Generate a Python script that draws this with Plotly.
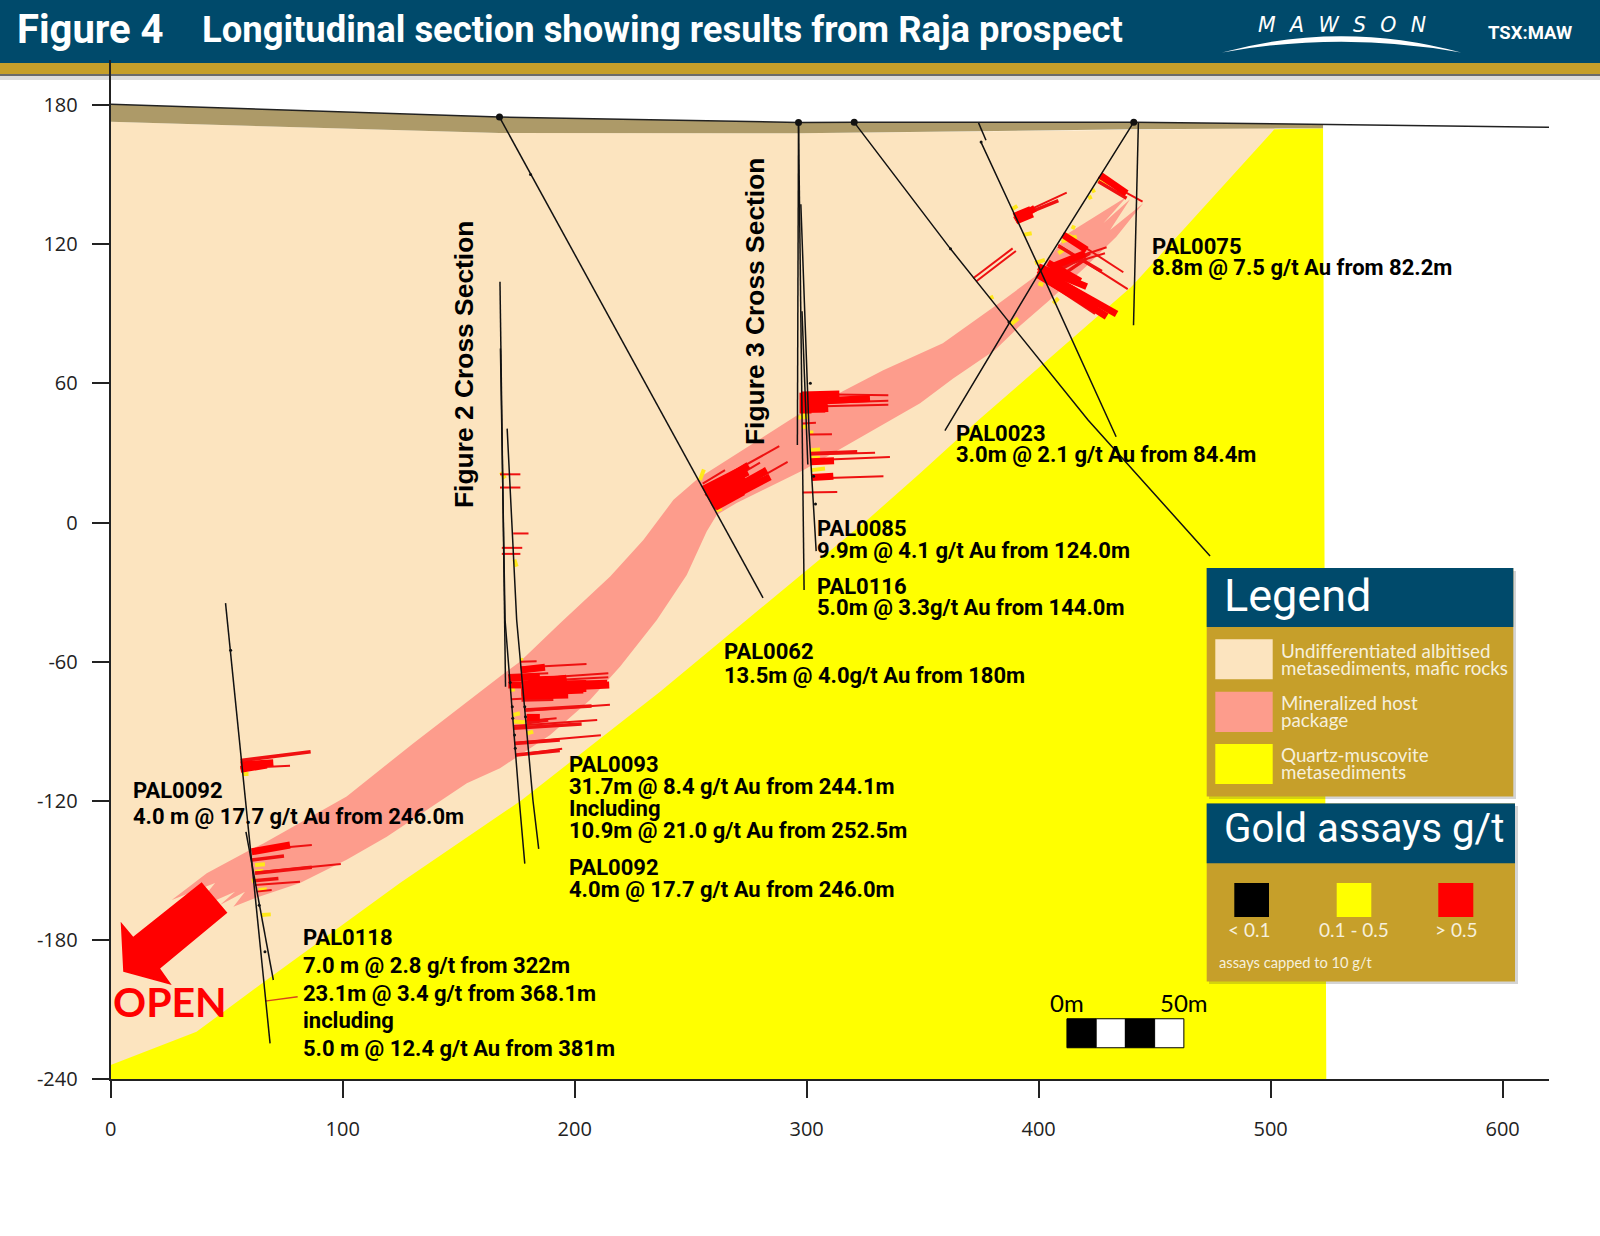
# Raja prospect longitudinal section
import plotly.graph_objects as go

W, H = 1600, 1236

# axis ticks
x_ticks = [0, 100, 200, 300, 400, 500, 600]
y_ticks = [-240, -180, -120, -60, 0, 60, 120, 180]
y_tick_labels = ["-240", "-180", "-120", "-60", "0", "60", "120", "180"]

# geology outlines (metres along section, elevation)
surface_x = [0, 167.6, 296.5, 321, 441, 522.6, 620]
surface_y = [180.3, 174.8, 172.5, 172.6, 172.6, 171.7, 170.4]
overburden_x = [0, 167.6, 296.5, 321, 441, 522.6, 522.6, 441, 296.5, 167.6, 0]
overburden_y = [180.3, 174.8, 172.5, 172.6, 172.6, 171.7, 170, 169.5, 167.8, 167.9, 172.8]
peach_x = [0, 167.6, 296.5, 441, 501.6, 522, 0]
peach_y = [172.8, 167.9, 167.8, 169.5, 170, -240, -240]
yellow_x = [0, 37, 67.2, 124.7, 177.2, 236.8, 326, 348.9, 374.1, 413.5, 440, 501.6, 522.6, 524, 0]
yellow_y = [-233.8, -219.5, -197.2, -155.4, -119.6, -72.9, 1, 21.3, 44.2, 78.7, 101.6, 169.5, 170, -240, -240]
host_x = [26.3, 41.4, 58.6, 65.8, 101.7, 130.5, 167.8, 176.4, 193.7, 215.3, 229.6, 242.6, 253.3, 297.1, 333, 358.7,
          382.9, 398.3, 412.6, 429, 438, 427.9, 439.4, 430.8, 445.1, 433.5, 420.3, 404.9, 391.5, 381.2, 363,
          348.9, 298.5, 269.8, 261.2, 256.9, 248.3, 235.4, 219.6, 206.6, 189.4, 167.8, 153.5, 119, 101.7, 81.6, 63.6, 52.9,
          57.9, 47.1, 53.6, 35.6, 45, 26.3]
host_y = [-162.7, -151.2, -141.9, -138.3, -118.1, -95.1, -66.4, -60, -43.4, -23.3, -7.5, 9.8, 19.1, 47, 65.7, 77.3,
          94.5, 106, 124.6, 134.7, 140.5, 129, 139.4, 126.1, 137.6, 123.2, 110.3, 96, 84.4, 74.4, 62,
          51.4, 22.6, 8.4, 3.3, -3.9, -22.6, -42, -62.1, -76.5, -91.6, -105.9, -112.4, -135.4, -145.4, -155.4, -161.4, -165.6,
          -159.1, -164.9, -159.1, -167, -155.4, -162.7]
arrow_x = [39.2, 50.3, 21.3, 26.3, 5.4, 4.3, 9.7]
arrow_y = [-155.1, -168.2, -192.2, -199.4, -193.6, -172.1, -178.5]

# drill traces as polylines
holes = [
    ([167.6, 281.2], [174.8, -32.5]),
    ([296.5, 296], [172.5, 33.4]),
    ([296.5, 298.9], [172.5, -29.1]),
    ([297.5, 301, 304.1], [137.2, 40, -12.3]),
    ([298, 300.5], [91.1, 25]),
    ([320.5, 362, 387.2, 421.3, 473.9], [172.5, 118, 86.5, 44.2, -14.4]),
    ([374.1, 377.3], [172.3, 164.8]),
    ([375.2, 399.4, 433.4], [163.9, 111.7, 37]),
    ([441, 399.3, 359.6], [172.6, 106, 39.6]),
    ([443, 440.9], [172.5, 85.1]),
    ([167.8, 170.2], [103.8, -70.8]),
    ([168, 170, 176.1, 178.5], [75, -42, -119.6, -147]),
    ([170.9, 175, 182, 184.5], [40.5, -42, -119.6, -140.7]),
    ([49.5, 68.7], [-34.7, -224.5]),
    ([58.3, 70.1], [-133.3, -197.2]),
]
collar_x = [167.6, 296.5, 320.5, 441]
collar_y = [174.8, 172.5, 172.6, 172.6]
sample_x = [172.2, 173.1, 173.3, 174.1, 174.4, 178.5, 178.8, 303, 303.8, 301.6, 181, 387.2, 375.2, 362, 51.7, 64, 66.5]
sample_y = [-69, -79.4, -84.4, -91.6, -97.3, -79.4, -83.7, 20, 8, 60, 150, 86.5, 164, 118, -55, -165, -185]

# gold assay bars along the holes, (x0, y0, x1, y1)
assay_thin = [
    (176.4, -60, 183.6, -59.8), (176.8, -62.5, 205.1, -61), (177.1, -67.6, 214.5, -65), (177.1, -68.6, 214.5, -66.7),
    (178.5, -81.1, 215.2, -78.5), (179.3, -85.5, 192.2, -84.4), (173.5, -87.7, 209.7, -85.1), (174.2, -94.9, 211.3, -91.7),
    (174.7, -100.2, 194.6, -97.5), (172.8, -76.2, 177.1, -75.9), (171.4, -65.7, 188.6, -65),
    (297.9, 55.4, 335.2, 54.9), (297.9, 51.3, 335.2, 52.5), (297.9, 49.9, 335.2, 50.8), (298.3, 42.7, 304, 43),
    (301.4, 38, 310.9, 38.1), (301.7, 29.3, 329.5, 30.1), (301.7, 26.9, 335.9, 28.3), (302.2, 19, 333.1, 20),
    (298.3, 13, 313.2, 13.2), (255.2, 16.8, 264.8, 22.6), (255.5, 14.7, 288.2, 32.9), (256.2, 11.8, 279.9, 25.8),
    (259, 7.5, 291.8, 26.2),
    (425.7, 148.8, 444.8, 138.3), (389.8, 131.9, 412.1, 142.2), (371.8, 105.3, 388.8, 118.2), (373, 103.9, 390.2, 117.1),
    (410.6, 124.7, 436.5, 107.9), (408.5, 119.7, 438.4, 100.6), (404.2, 110.3, 429.3, 118.7), (404.9, 108.9, 428.6, 116.1),
    (399.9, 106, 424.3, 89.9),
    (56, -105.9, 77.3, -104.8), (60.8, -141.4, 86.7, -139), (62.2, -150.9, 99.2, -147.2), (62.2, -156.2, 81.6, -154.8),
    (62.9, -159.1, 69.4, -158.4),
    (167.8, 20.8, 176.6, 20.8), (167.8, 15.1, 176.6, 15.1), (173.5, -4.7, 180.1, -4.7), (168.6, -10.9, 177.4, -10.9),
    (168.6, -13.5, 176.6, -13.5),
]
assay_mid = [
    (178.5, -80.8, 207.3, -79.1), (179.3, -86.3, 188.6, -85.1), (173.5, -88.7, 203, -86.8), (174.2, -95.2, 193.6, -93.7),
    (174.7, -100.2, 193.6, -98.3), (177.1, -76.5, 190.8, -76.2), (301.7, 29.8, 321.8, 30.5),
    (425.7, 147, 437.9, 139.8), (389.8, 131.2, 408.5, 138.8), (408.5, 119.2, 427.2, 108.2), (406.3, 107.5, 422.1, 116.1),
    (409.2, 106, 420.7, 113.9), (399.9, 106, 416.4, 96.7),
    (56, -102.6, 86.2, -98.8), (60.8, -145.5, 74.7, -143.7), (62.2, -151.2, 86.7, -148.6), (61.5, -154.4, 72.3, -153.4),
]
assay_heavy = [
    (176.8, -63.6, 187.2, -62.4), (171.4, -67.1, 185, -66.4), (177.1, -70, 196.5, -67.1), (177.1, -71.9, 214.9, -70),
    (177.1, -73.3, 203.7, -72.2), (177.1, -74.8, 197.2, -74.3), (171.4, -70, 177.1, -70), (179.3, -84, 185, -84),
    (196, -69.8, 214, -69.3),
    (297.9, 55, 314.1, 55.4), (297.9, 52, 327.3, 53.5), (297.9, 48.7, 309.3, 49.2), (297.9, 50, 309, 50),
    (301.7, 26.2, 311.8, 26.6), (302.2, 19.4, 311.5, 20), (256.2, 13.2, 274.9, 24.7), (257.6, 10.4, 273.4, 19.4),
    (258.3, 8.9, 282.8, 22.6), (259.8, 6.8, 284.2, 19.7), (260.5, 6.5, 272.7, 13.2),
    (426.5, 149.8, 437.9, 141.9), (389.8, 130.4, 398.4, 135.5), (410.6, 124, 420.7, 117.5), (399.9, 108.9, 433.6, 89.9),
    (399.9, 107.5, 429.3, 88.8), (399.9, 110.3, 420.7, 101.7), (404, 112, 418, 104), (404.9, 110, 420, 116),
    (56, -104.5, 70.1, -103.5), (56, -106.4, 67.3, -104.5), (60.8, -141.9, 77.3, -139),
]
assay_block = [
    (399.9, 108, 425, 93), (389.8, 131, 397, 134), (299.5, 56, 299.5, 47), (180, -69, 196, -68.5), (180, -71, 205, -70.5),
    (177.1, -73.5, 192, -73), (298, 53, 309, 52), (298, 50, 308, 50), (255.8, 13.3, 274.2, 22.7), (259.1, 8.3, 277, 17.7),
]
assay_low = [
    (388.4, 135, 390.8, 136.5), (393.4, 124, 397, 124.7), (398.4, 111.8, 402.7, 113.2), (399.9, 103.1, 402, 102.4),
    (408.5, 116.1, 410.6, 117.5), (409.9, 121.1, 416.4, 123.3), (412.1, 124, 415.7, 122.5), (414.2, 127.6, 415.7, 126.9),
    (421.4, 139.8, 422.9, 140.5), (422.9, 142.7, 424.3, 143.4), (387.7, 85.2, 391.2, 88), (379, 96.7, 380.5, 97.4),
    (406.3, 94.5, 408.5, 96.7), (425.7, 147.7, 430, 145.5),
    (254, 18.3, 255.7, 22.9), (258.3, 10.4, 262.6, 12.2), (260.9, 5.3, 263.4, 6), (296.4, 45.3, 300.7, 45.6),
    (297.8, 46.3, 302.2, 48.5), (297.8, 41.3, 300.3, 41.3), (301.4, 38.8, 302.9, 38.8), (301.7, 31.2, 305.8, 31.5),
    (301.7, 27.9, 305.8, 27.9), (302.2, 22.6, 307.9, 23.3),
    (176.4, -59.2, 177.8, -59.2), (172.1, -72.2, 174.2, -71.9), (173.2, -83, 176.4, -82.2), (173.5, -85.8, 178.5, -86.1),
    (179, -87.7, 181.4, -87.3), (179.5, -90.9, 182.1, -90.1),
    (56.9, -108.4, 59.4, -108.4), (62.2, -147.6, 66.5, -147.3), (62.2, -150.5, 65.8, -150.2), (60.8, -154.4, 62.9, -154.1),
    (63.7, -158.4, 67.3, -158.1), (65.1, -169.2, 69, -168.9), (168.2, 21.7, 170, 19), (174, -16, 175, -19),
]
leader_x = [66.5, 80.6]
leader_y = [-206.3, -204.4]

# scale bar, metres
scale_x = [412.2, 424.8, 437.4, 450, 462.6]
scale_y = [-226.4, -213.9]

# hole intercept labels: text, left px, centre px
hole_labels = [
    ("PAL0075", 1150, 246), ("8.8m @ 7.5 g/t Au from 82.2m", 1150, 267),
    ("PAL0023", 954, 433), ("3.0m @ 2.1 g/t Au from 84.4m", 954, 454),
    ("PAL0085", 815, 528), ("9.9m @ 4.1 g/t Au from 124.0m", 815, 550),
    ("PAL0116", 815, 586), ("5.0m @ 3.3g/t Au from 144.0m", 815, 608),
    ("PAL0062", 722, 652), ("13.5m @ 4.0g/t Au from 180m", 722, 675),
    ("PAL0093", 567, 764), ("31.7m @ 8.4 g/t Au from 244.1m", 567, 786), ("Including", 567, 808),
    ("10.9m @ 21.0 g/t Au from 252.5m", 567, 830),
    ("PAL0092", 567, 867), ("4.0m @ 17.7 g/t Au from 246.0m", 567, 889),
    ("PAL0092", 131, 790), ("4.0 m @ 17.7 g/t Au from 246.0m", 131, 816),
    ("PAL0118", 301, 937), ("7.0 m @ 2.8 g/t from 322m", 301, 965), ("23.1m @ 3.4 g/t from 368.1m", 301, 993),
    ("including", 301, 1020), ("5.0 m @ 12.4 g/t Au from 381m", 301, 1048),
]

TEAL = "#004a6b"
GOLD = "#c69f2a"
CREAM = "#f6f0dc"


def seg_xy(segs):
    xs, ys = [], []
    for x0, y0, x1, y1 in segs:
        xs += [x0, x1, None]
        ys += [y0, y1, None]
    return xs, ys


def add_fill(xs, ys, color):
    fig.add_trace(go.Scatter(x=xs, y=ys, mode="lines", fill="toself", fillcolor=color, line=dict(width=0), hoverinfo="skip"))


def add_segs(segs, color, width):
    xs, ys = seg_xy(segs)
    fig.add_trace(go.Scatter(x=xs, y=ys, mode="lines", line=dict(color=color, width=width), hoverinfo="skip"))


def box(x0, y0, x1, y1, color, layer="above", line=None):
    fig.add_shape(type="rect", xref="paper", yref="paper", x0=x0 / W, x1=x1 / W, y0=1 - y0 / H, y1=1 - y1 / H,
                  fillcolor=color, line=line or dict(width=0), layer=layer)


def note(text, x, y, size, color="#000000", family="Roboto", anchor="left", bold=False, angle=0):
    fig.add_annotation(text="<b>%s</b>" % text if bold else text, x=x / W, y=1 - y / H, xref="paper", yref="paper",
                       xanchor=anchor, yanchor="middle", showarrow=False, textangle=angle,
                       font=dict(size=size, color=color, family=family))


fig = go.Figure()

add_fill(peach_x, peach_y, "#fce4bf")
add_fill(yellow_x, yellow_y, "#ffff00")
add_fill(host_x, host_y, "#fd9c8c")
add_fill(overburden_x, overburden_y, "#ad9a68")
add_fill(arrow_x, arrow_y, "#ff0000")

add_segs(assay_low, "#ffe81a", 4)
add_segs(assay_thin, "#ee1111", 2)
add_segs(assay_mid, "#f01010", 3.5)
add_segs(assay_heavy, "#ff0000", 7)
add_segs(assay_block, "#ff0000", 12)
fig.add_trace(go.Scatter(x=leader_x, y=leader_y, mode="lines", line=dict(color="#d8431c", width=1.5), hoverinfo="skip"))

for hole_x, hole_y in holes:
    fig.add_trace(go.Scatter(x=hole_x, y=hole_y, mode="lines", line=dict(color="#111111", width=1.5), hoverinfo="skip"))
fig.add_trace(go.Scatter(x=sample_x, y=sample_y, mode="markers", marker=dict(color="#111111", size=3), hoverinfo="skip"))
fig.add_trace(go.Scatter(x=surface_x, y=surface_y, mode="lines", line=dict(color="#222222", width=1.5), hoverinfo="skip"))
fig.add_trace(go.Scatter(x=collar_x, y=collar_y, mode="markers", marker=dict(color="#111111", size=7), hoverinfo="skip"))

# scale bar
for i in range(4):
    fig.add_shape(type="rect", x0=scale_x[i], x1=scale_x[i + 1], y0=scale_y[0], y1=scale_y[1],
                  fillcolor="#000000" if i % 2 == 0 else "#ffffff", line=dict(color="#000000", width=1))
note("0m", 1067, 1002, 24, family="Lato", anchor="center")
note("50m", 1184, 1002, 24, family="Lato", anchor="center")

# header bands
box(0, 74, W, 76, "rgba(70,70,70,0.8)", layer="below")
box(0, 76, W, 80, "rgba(120,120,120,0.25)", layer="below")
box(0, 0, W, 63, TEAL, layer="below")
box(0, 63, W, 74, GOLD, layer="below")
note("Figure 4", 15, 30, 40, "#ffffff", bold=True)
note("Longitudinal section showing results from Raja prospect", 200, 30, 36.4, "#ffffff", bold=True)
note("<i>M\u2002\u2009A\u2002\u2009W\u2002\u2009S\u2002\u2009O\u2002\u2009N</i>", 1342, 25, 20.5, "#ffffff", "DejaVu Sans", anchor="center")
note("TSX:MAW", 1486, 33, 18.5, "#ffffff", bold=True)
fig.add_shape(type="path", xref="paper", yref="paper", fillcolor="#ffffff", line=dict(width=0), layer="above",
              path="M %f %f Q %f %f %f %f Q %f %f %f %f Z" % (
                  1222 / W, 1 - 52.5 / H, 1341 / W, 1 - 20 / H, 1461 / W, 1 - 52.5 / H, 1341 / W, 1 - 31 / H, 1222 / W, 1 - 52.5 / H))

# legend panels
box(1209, 571, 1516, 799, "rgba(60,60,60,0.22)")
box(1209, 806, 1518, 984, "rgba(60,60,60,0.22)")
box(1206.7, 568, 1513.3, 796.4, GOLD)
box(1206.7, 568, 1513.3, 627, TEAL)
box(1206.7, 803.6, 1515, 981.4, GOLD)
box(1206.7, 803.6, 1515, 863.2, TEAL)
note("Legend", 1222, 595, 45, "#ffffff")
note("Gold assays g/t", 1222, 828, 40.3, "#ffffff")
box(1215.3, 639.3, 1272.7, 679.3, "#fce4bf")
box(1215.3, 691.8, 1272.7, 732.1, "#fd9c8c")
box(1215.3, 743.9, 1272.7, 783.9, "#ffff00")
note("Undifferentiated albitised", 1279, 650.5, 18.8, CREAM, "Lato")
note("metasediments, mafic rocks", 1279, 667.5, 18.8, CREAM, "Lato")
note("Mineralized host", 1279, 702, 18.8, CREAM, "Lato")
note("package", 1279, 719, 18.8, CREAM, "Lato")
note("Quartz-muscovite", 1279, 754.5, 18.8, CREAM, "Lato")
note("metasediments", 1279, 771.5, 18.8, CREAM, "Lato")
box(1234.3, 882.9, 1269, 917.1, "#000000")
box(1336.7, 882.9, 1371.3, 917.1, "#ffff00")
box(1438.3, 882.9, 1473.3, 917.1, "#ff0000")
note("&lt; 0.1", 1248.7, 929, 19, CREAM, "Lato", anchor="center")
note("0.1 - 0.5", 1354.3, 929, 19, CREAM, "Lato", anchor="center")
note("&gt; 0.5", 1456.3, 929, 19, CREAM, "Lato", anchor="center")
note("assays capped to 10 g/t", 1216.7, 962, 14.7, CREAM, "Lato")

for text, left, mid in hole_labels:
    note(text, left, mid, 22, bold=True)
note("Figure 2 Cross Section", 464, 364, 26.4, family="Liberation Sans", anchor="center", bold=True, angle=-90)
note("Figure 3 Cross Section", 755, 302, 26.4, family="Liberation Sans", anchor="center", bold=True, angle=-90)
note("OPEN", 170, 1001, 41, "#ff0000", "Lato", anchor="center", bold=True)

fig.update_xaxes(domain=[110.7 / W, 1549 / W], range=[0, 620], tickvals=x_ticks, showgrid=False, zeroline=False,
                 showline=True, linecolor="#222222", linewidth=2, ticks="outside", ticklen=17, tickwidth=1.5,
                 tickcolor="#222222", ticklabelstandoff=14, tickfont=dict(family="Open Sans", size=20, color="#222222"))
fig.update_yaxes(domain=[1 - 1079.3 / H, 1 - 60 / H], range=[-240, 199.4], tickvals=y_ticks, ticktext=y_tick_labels,
                 showgrid=False, zeroline=False,
                 showline=True, linecolor="#222222", linewidth=2, ticks="outside", ticklen=17, tickwidth=1.5,
                 tickcolor="#222222", ticklabelstandoff=10, tickfont=dict(family="Open Sans", size=20, color="#222222"))
fig.update_layout(width=W, height=H, margin=dict(l=0, r=0, t=0, b=0, autoexpand=False), showlegend=False,
                  paper_bgcolor="#ffffff", plot_bgcolor="#ffffff")

fig.write_html("out.html", config={"displayModeBar": False}, post_script="document.body.style.margin='0';")
